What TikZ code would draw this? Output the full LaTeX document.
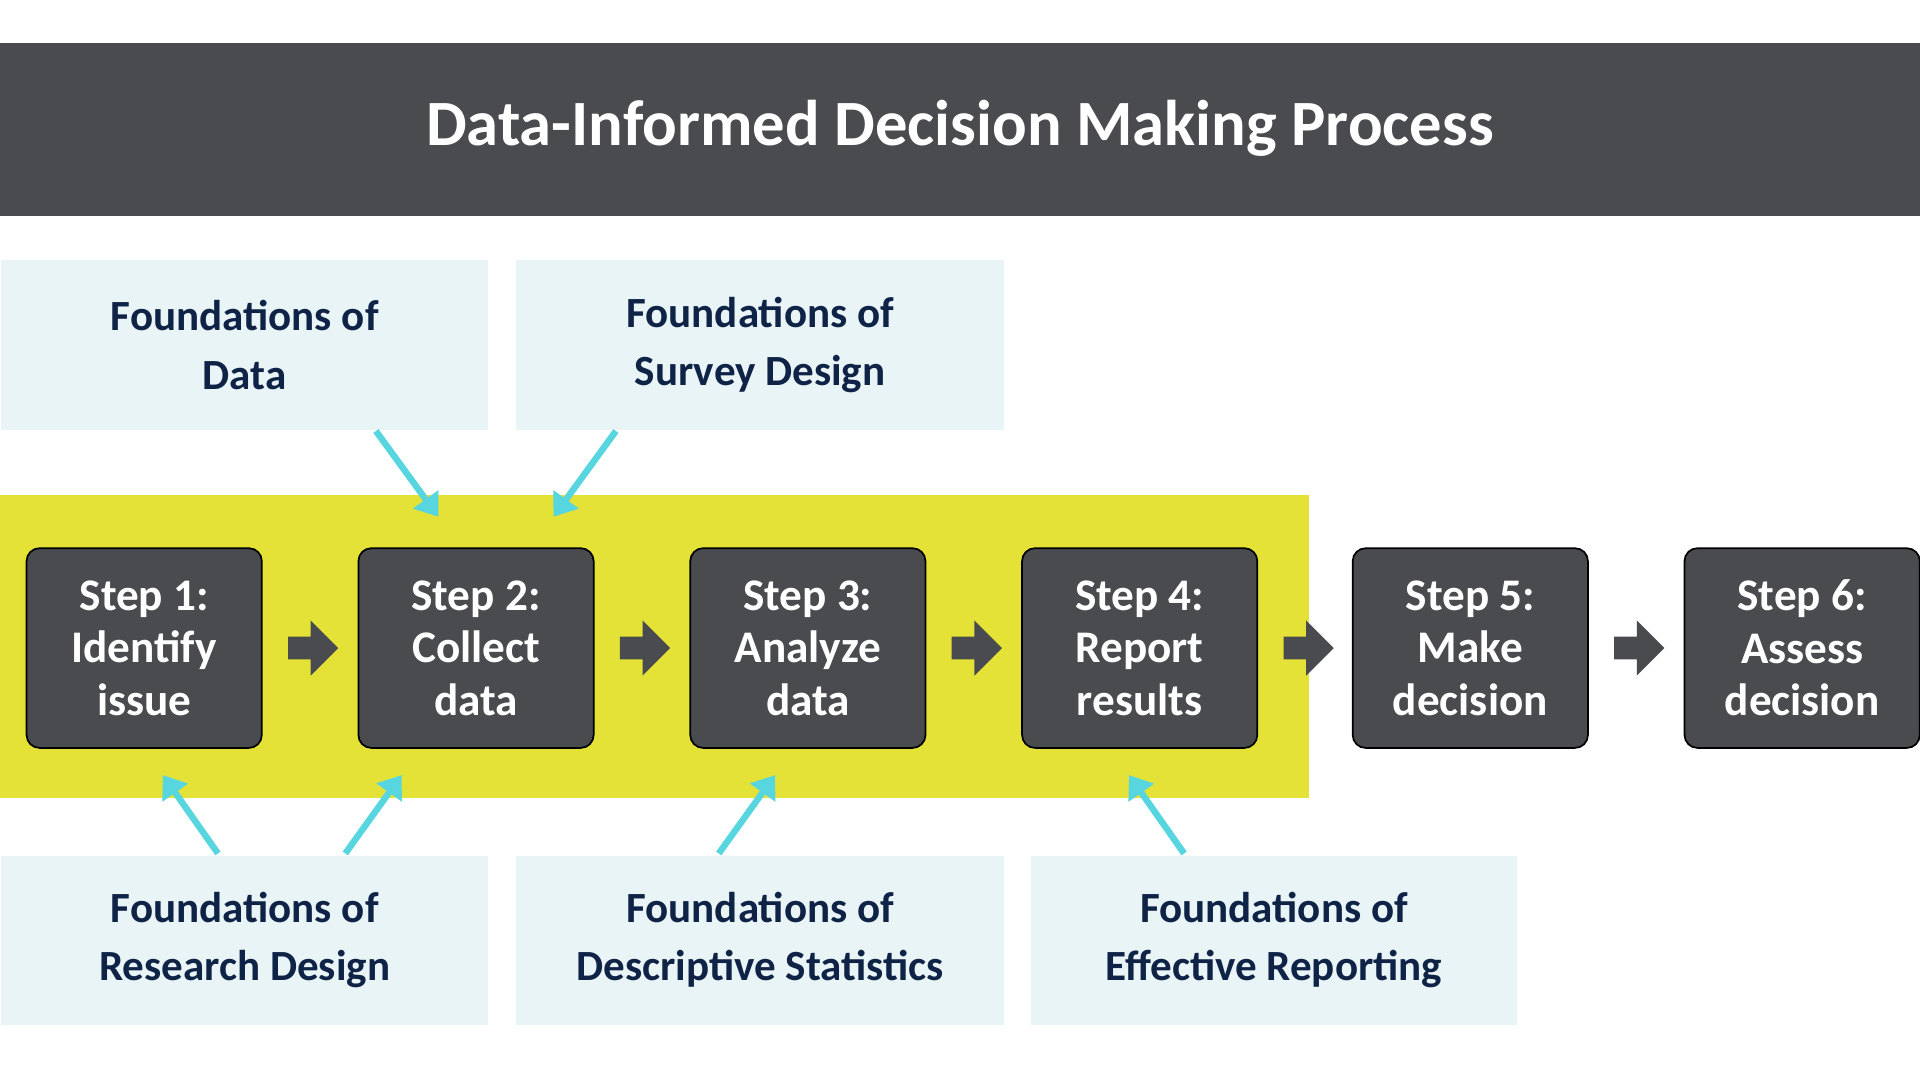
\documentclass[tikz,border=0pt]{standalone}
\usepackage{fontspec}
\setmainfont{Carlito}
\usetikzlibrary{shapes.arrows,arrows.meta}
\definecolor{dgray}{HTML}{4A4B4F}
\definecolor{yel}{HTML}{E4E236}
\definecolor{lblue}{HTML}{E9F4F7}
\definecolor{navy}{HTML}{0F2346}
\definecolor{cyanar}{HTML}{57D6E0}
\tikzset{
 stepbox/.style={draw=black,line width=0.4pt,fill=dgray,rounded corners=3pt,minimum width=1.92cm,minimum height=1.63cm,text=white,font=\bfseries\fontsize{10.5pt}{12.2pt}\selectfont,align=center,anchor=north west},
 fbox/.style={fill=lblue,text=navy,font=\bfseries\fontsize{10pt}{13.5pt}\selectfont,align=center},
 blockar/.style={single arrow,fill=dgray,minimum height=0.41cm,minimum width=0.45cm,single arrow head extend=0.01cm,inner sep=0pt,anchor=west},
 car/.style={draw=cyanar,line width=1.5pt,-{Triangle[length=5pt,width=7pt]}}
}
\begin{document}
\begin{tikzpicture}[x=0.01cm,y=-0.01cm]
\useasboundingbox (0,0) rectangle (1568,882);
\fill[white] (0,0) rectangle (1568,882);
\fill[dgray] (0,35) rectangle (1568,176);
\node[text=white,font=\bfseries\fontsize{15pt}{18pt}\selectfont] (title) at (784,105) {Data-Informed Decision Making Process};
\fill[yel] (0,404) rectangle (1069,652);
\node[fbox,minimum width=3.98cm,minimum height=1.38cm,anchor=north west] (f1) at (0,212) {Foundations of\\Data};
\node[fbox,minimum width=3.98cm,minimum height=1.38cm,anchor=north west] (f2) at (421,212) {Foundations of\\Survey Design};
\node[fbox,minimum width=3.98cm,minimum height=1.38cm,anchor=north west] (f3) at (0,698) {Foundations of\\Research Design};
\node[fbox,minimum width=3.98cm,minimum height=1.38cm,anchor=north west] (f4) at (421,698) {Foundations of\\Descriptive Statistics};
\node[fbox,minimum width=3.97cm,minimum height=1.38cm,anchor=north west] (f5) at (841,698) {Foundations of\\Effective Reporting};
\node[stepbox] (s1) at (21,447) {Step 1:\\Identify\\issue};
\node[stepbox] (s2) at (292,447) {Step 2:\\Collect\\data};
\node[stepbox] (s3) at (563,447) {Step 3:\\Analyze\\data};
\node[stepbox] (s4) at (834,447) {Step 4:\\Report\\results};
\node[stepbox] (s5) at (1104,447) {Step 5:\\Make\\decision};
\node[stepbox] (s6) at (1375,447) {Step 6:\\Assess\\decision};
\foreach \a/\b in {1/2,2/3,3/4,4/5,5/6}
  \node[blockar] (ar\a) at ([xshift=0.2cm]s\a.east) {};
\coordinate (a1s) at (307,352); \coordinate (a1e) at (358,422);
\coordinate (a2s) at (503,352); \coordinate (a2e) at (452,422);
\coordinate (a3s) at (178,697); \coordinate (a3e) at (133,633);
\coordinate (a4s) at (282,697); \coordinate (a4e) at (328,633);
\coordinate (a5s) at (587,697); \coordinate (a5e) at (633,633);
\coordinate (a6s) at (967,697); \coordinate (a6e) at (922,633);
\foreach \i in {1,...,6} \draw[car] (a\i s) -- (a\i e);
\end{tikzpicture}
\end{document}
